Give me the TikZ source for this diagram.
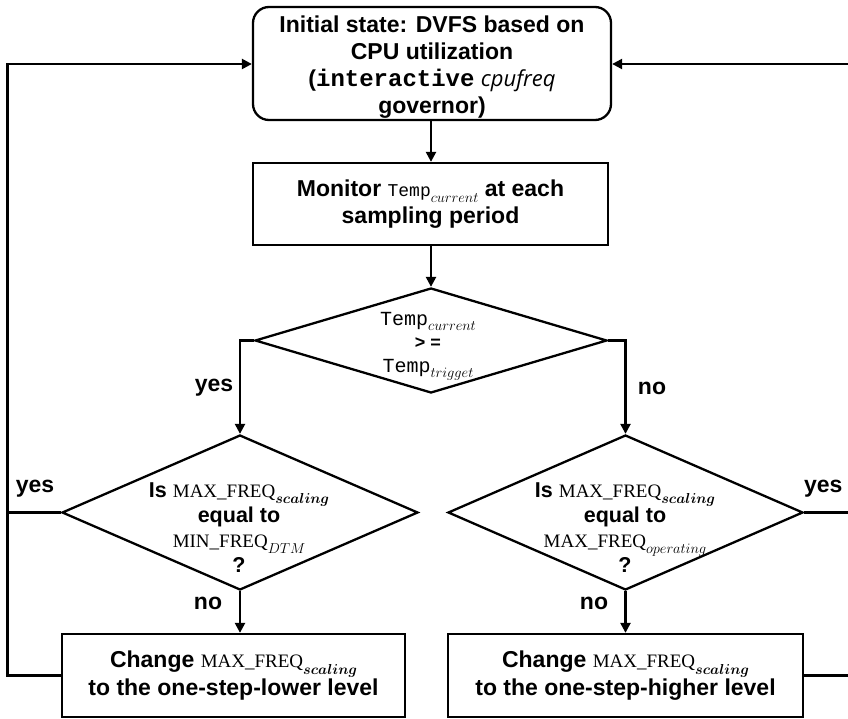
\documentclass[tikz,border=0pt]{standalone}
\usepackage{amsmath}
\usepackage{fontspec}
\usetikzlibrary{shapes.geometric,arrows.meta}
\newfontfamily\gfont{Liberation Sans}
\newfontfamily\itfont{Open Sans}
\newfontfamily\monof{Liberation Mono}
\newfontfamily\serf{Liberation Serif}
\newcommand\rmtxt[1]{{\serf\mdseries\fontsize{19}{25}\selectfont #1}}
\newcommand\ttxt[2]{{\monof\mdseries\fontsize{#1}{25}\selectfont #2}}
\newcommand\sbx[1]{\raisebox{-0.28em}{\fontsize{15.5}{15}\selectfont$#1$}}
\begin{document}
\begin{tikzpicture}[x=1pt,y=-1pt,line width=2.3pt,
  arr/.style={-{Triangle[length=10pt,width=10pt]}},
  lbl/.style={font=\gfont\bfseries\fontsize{23}{26}\selectfont},
  txt/.style={inner sep=0pt,align=center,font=\gfont\bfseries\fontsize{21.5}{25}\selectfont},
  box/.style={draw,inner sep=0pt,align=center,font=\gfont\bfseries\fontsize{23}{27.5}\selectfont},
  dia/.style={draw,diamond,inner sep=0pt}]
\useasboundingbox (0,0) rectangle (848,719);
\clip (0,0) rectangle (848,719);
\fill[white] (0,0) rectangle (848,719);

\node[box,rounded corners=16pt,minimum width=358pt,minimum height=113pt] (top) at (432,63.5) {};
\node[txt,font=\gfont\bfseries\fontsize{23}{27}\selectfont] (ttop) at (432,67)
  {Initial state: DVFS based on\\CPU utilization\\({\monof\bfseries\fontsize{24}{27}\selectfont interactive} {\itfont\mdseries\itshape\fontsize{22}{27}\selectfont cpufreq}\\governor)};
\node[box,minimum width=355pt,minimum height=82pt] (mon) at (430.5,204)
  {Monitor \ttxt{18}{Temp}\sbx{current} at each\\sampling period};

\node[dia,minimum width=352pt,minimum height=105pt] (d1) at (431,340.5) {};
\node[txt,font=\gfont\bfseries\fontsize{18}{23.5}\selectfont] (t1) at (428,346)
  {\ttxt{20}{Temp}\sbx{current}\\> =\\\ttxt{20}{Temp}\sbx{trigget}};

\node[dia,minimum width=356pt,minimum height=155pt] (d2l) at (240,512.5) {};
\node[txt] (t2l) at (239,528)
  {Is \rmtxt{MAX\_FREQ}\sbx{\boldsymbol{scaling}}\\equal to\\\rmtxt{MIN\_FREQ}\sbx{DTM}\\?};

\node[dia,minimum width=355pt,minimum height=155pt] (d2r) at (625.5,512.5) {};
\node[txt] (t2r) at (625,528)
  {Is \rmtxt{MAX\_FREQ}\sbx{\boldsymbol{scaling}}\\equal to\\\rmtxt{MAX\_FREQ}\sbx{operating}\\?};

\node[box,minimum width=343pt,minimum height=83pt] (bl) at (233.5,675.5)
  {Change \rmtxt{MAX\_FREQ}\sbx{\boldsymbol{scaling}}\\to the one-step-lower level};
\node[box,minimum width=355pt,minimum height=83pt] (br) at (625.5,675.5)
  {Change \rmtxt{MAX\_FREQ}\sbx{\boldsymbol{scaling}}\\to the one-step-higher level};

\coordinate (lx) at (7.5,0);
\coordinate (rx) at (852,0);

\draw[arr] (top.south -| d1.north) -- (mon.north -| d1.north);
\draw[arr] (mon.south -| d1.north) -- (d1.north);
\draw[arr] (d1.west) -| (d2l.north);
\draw[arr] (d1.east) -| (d2r.north);
\draw[arr] (d2l.south) -- (d2l.south |- bl.north);
\draw[arr] (d2r.south) -- (d2r.south |- br.north);
\draw[arr] (d2l.west) -- (lx |- d2l.west) |- (lx |- 0,64) -- (top.west |- 0,64);
\draw (bl.west) -- (lx |- bl.west) -- (lx |- d2l.west);
\draw[arr] (d2r.east) -- (rx |- d2r.east) |- (rx |- 0,64) -- (top.east |- 0,64);
\draw (br.east) -- (rx |- br.east) -- (rx |- d2r.east);

\node[lbl] (y1) at (214,388) {yes};
\node[lbl] (n1) at (652,388) {no};
\node[lbl] (y2) at (35,489) {yes};
\node[lbl,anchor=east] (y3) at (847,489) {yes};
\node[lbl] (n2) at (208,603) {no};
\node[lbl] (n3) at (594,603) {no};
\end{tikzpicture}
\end{document}
